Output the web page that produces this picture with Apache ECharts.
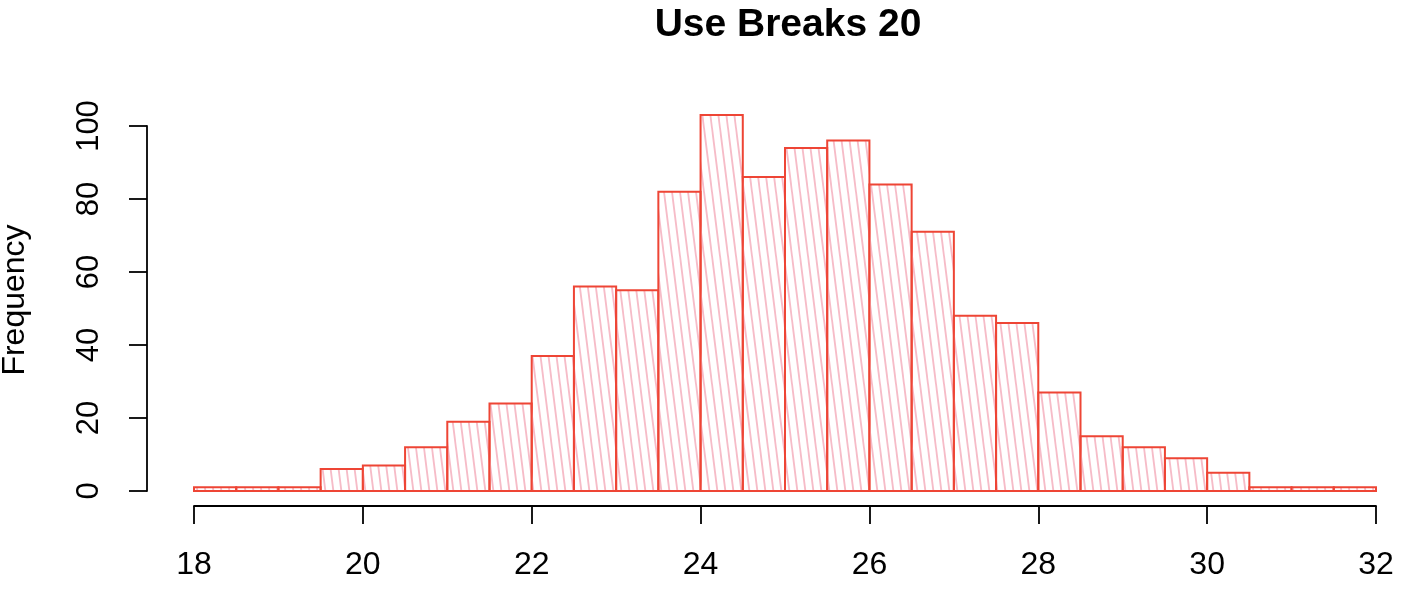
<!DOCTYPE html>
<html>
<head>
<meta charset="utf-8">
<script src="https://cdn.jsdelivr.net/npm/echarts@6/dist/echarts.min.js"></script>
<style>
html,body{margin:0;padding:0;background:#fff;}
#chart{width:1418px;height:608px;}
</style>
</head>
<body>
<div id="chart"></div>
<script>
// Data
const breaks = [18,18.5,19,19.5,20,20.5,21,21.5,22,22.5,23,23.5,24,24.5,25,25.5,26,26.5,27,27.5,28,28.5,29,29.5,30,30.5,31,31.5,32];
const counts = [1,1,1,6,7,12,19,24,37,56,55,82,103,86,94,96,84,71,48,46,27,15,12,9,5,1,1,1];
const xTicks = [18,20,22,24,26,28,30,32];
const yTicks = [0,20,40,60,80,100];
const titleText = 'Use Breaks 20';
const yLabel = 'Frequency';

const FONT = '"Liberation Sans", Arial, Helvetica, sans-serif';
const RED = '#EE4535';
const PINK = '#F6BCC8';

// hatch pattern tile
function makeHatch() {
  const w = 8, h = 64;
  const c = document.createElement('canvas');
  c.width = w; c.height = h;
  const ctx = c.getContext('2d');
  ctx.strokeStyle = PINK;
  ctx.lineWidth = 1.8;
  for (let k = -2; k <= 2; k++) {
    ctx.beginPath();
    ctx.moveTo(k * w, 0);
    ctx.lineTo(k * w + w, h);
    ctx.stroke();
  }
  return c;
}
const hatch = makeHatch();

const barData = counts.map((v, i) => [breaks[i], breaks[i + 1], v]);

const chart = echarts.init(document.getElementById('chart'), null, {renderer: 'canvas'});
chart.setOption({
  animation: false,
  backgroundColor: '#ffffff',
  title: {
    text: titleText,
    left: 783,
    textAlign: 'center',
    top: 1,
    textStyle: {fontFamily: FONT, fontWeight: 'bold', fontSize: 39, color: '#000'}
  },
  graphic: [{
    type: 'text',
    x: 15, y: 300,
    rotation: Math.PI / 2,
    style: {text: yLabel, font: '32px ' + FONT, fill: '#000', align: 'center', verticalAlign: 'middle'}
  }],
  grid: {left: 194, right: 42, top: 126, bottom: 117, containLabel: false},
  xAxis: {
    type: 'value', min: 18, max: 32, interval: 2,
    offset: 15,
    axisLine: {show: true, onZero: false, lineStyle: {color: '#000', width: 1.8}},
    axisTick: {show: true, length: 18, inside: false, lineStyle: {color: '#000', width: 1.8}},
    axisLabel: {margin: 43, fontFamily: FONT, fontSize: 32, color: '#000',
      customValues: xTicks, showMinLabel: true, showMaxLabel: true},
    splitLine: {show: false}
  },
  yAxis: {
    type: 'value', min: 0, max: 100, interval: 20,
    offset: 47,
    axisLine: {show: true, onZero: false, lineStyle: {color: '#000', width: 1.8}},
    axisTick: {show: true, length: 18, lineStyle: {color: '#000', width: 1.8}},
    axisLabel: {margin: 42, rotate: 90, fontFamily: FONT, fontSize: 31, color: '#000',
      customValues: yTicks},
    splitLine: {show: false}
  },
  series: [{
    type: 'custom',
    clip: false,
    data: barData,
    encode: {x: [0, 1], y: 2},
    renderItem: function (params, api) {
      const p0 = api.coord([api.value(0), api.value(2)]);
      const p1 = api.coord([api.value(1), 0]);
      return {
        type: 'rect',
        shape: {x: p0[0], y: p0[1], width: p1[0] - p0[0], height: p1[1] - p0[1]},
        style: {fill: {image: hatch, repeat: 'repeat'}, stroke: RED, lineWidth: 2}
      };
    }
  }]
});
</script>
</body>
</html>
